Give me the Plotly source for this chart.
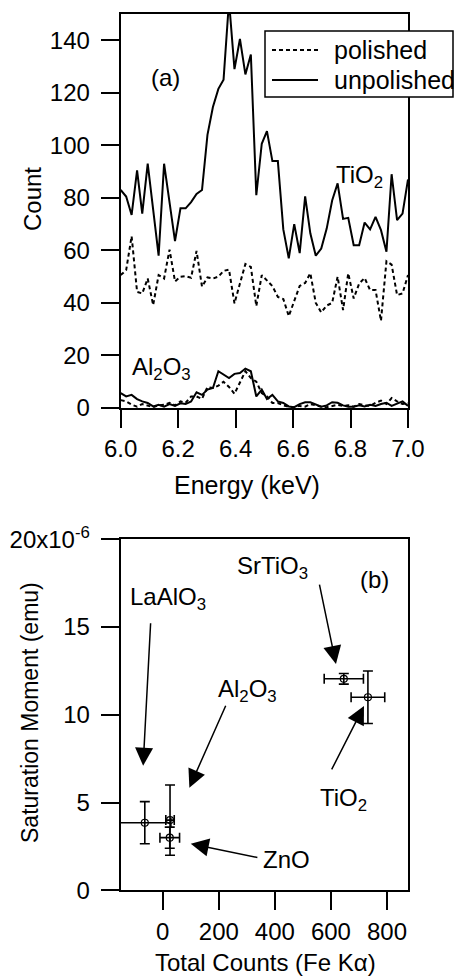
import plotly.graph_objects as go

# ---------------- data: panel (a) ----------------
energy = [6.000, 6.019, 6.038, 6.057, 6.075, 6.094, 6.113, 6.132, 6.151, 6.170,
          6.189, 6.208, 6.226, 6.245, 6.264, 6.283, 6.302, 6.321, 6.340, 6.358,
          6.377, 6.396, 6.415, 6.434, 6.453, 6.472, 6.491, 6.509, 6.528, 6.547,
          6.566, 6.585, 6.604, 6.623, 6.642, 6.660, 6.679, 6.698, 6.717, 6.736,
          6.755, 6.774, 6.792, 6.811, 6.830, 6.849, 6.868, 6.887, 6.906, 6.925,
          6.943, 6.962, 6.981, 7.000]

tio2_unpolished = [83, 80.5, 73.5, 90.5, 74, 93, 75.5, 58, 93, 78,
                   63.5, 76, 76, 78.4, 81.5, 83, 104, 114.6, 121.5, 125,
                   155, 129, 140.5, 127, 134.6, 81, 100.6, 105.4, 94, 94,
                   68, 57, 70, 59, 80.6, 66.5, 58, 60.7, 68.3, 79,
                   85.5, 72, 72.4, 62, 62, 70.6, 68, 72.8, 67.7, 59.5,
                   89, 71.5, 74, 87]

tio2_polished = [50.6, 52.5, 65.4, 44.2, 43.6, 49.3, 39.2, 50.6, 49.3, 60.3,
                 48.2, 50, 50.2, 49.6, 59.8, 46.2, 49.7, 49.3, 50, 52.2,
                 52.7, 39.8, 47.4, 54.8, 53.7, 38.8, 50.6, 48.4, 46.4, 42.3,
                 41.5, 35, 40.5, 46.5, 47.6, 51.3, 40, 36.4, 39, 40,
                 50, 37.3, 51.3, 41.7, 47.4, 49.5, 44.9, 44.9, 33.2, 55.9,
                 54.6, 43, 43.6, 50.6]

al2o3_unpolished = [5.7, 4.4, 5, 3.4, 2.5, 1.9, 0.6, 1.2, 0.5, 1.5,
                    0.8, 1.8, 1.5, 2.5, 6, 5, 7, 7.6, 14, 12.7,
                    11.4, 13, 13.3, 15, 14, 4.4, 7, 3.4, 5, 2.5,
                    1.9, 0.6, 0.3, 1.5, 2.2, 2.2, 1.5, 0.5, 1, 2.2,
                    2, 1, 0.5, 0.5, 1, 0.6, 1.2, 0.8, 1.5, 2,
                    0.8, 1.8, 2.5, 0.8]

al2o3_polished = [3, 2.5, 1.3, 0.5, 1.5, 0.8, 0.3, 1, 1.2, 2,
                  1, 2.5, 2, 4.4, 4.4, 3.5, 8, 7.6, 8.5, 10,
                  8, 5.4, 10, 14, 11.4, 10, 5.7, 4.4, 1.9, 1.9,
                  1, 0.5, 0.3, 0.8, 0.5, 1.5, 1, 0.5, 0.3, 0.8,
                  1.2, 0.8, 1, 0.5, 1.5, 1, 0.8, 2, 2.8, 1.5,
                  3.8, 2.5, 1.5, 1.8]

energy_ticks = [6.0, 6.2, 6.4, 6.6, 6.8, 7.0]
energy_ticktext = ["6.0", "6.2", "6.4", "6.6", "6.8", "7.0"]
count_ticks = [0, 20, 40, 60, 80, 100, 120, 140]
legend_labels = ["polished", "unpolished"]

# ---------------- data: panel (b) ----------------
samples = ["LaAlO<sub>3</sub>", "Al<sub>2</sub>O<sub>3</sub>", "ZnO", "SrTiO<sub>3</sub>", "TiO<sub>2</sub>"]
total_counts = [-64, 26, 25, 646, 732]
total_counts_err = [93, 15, 35, 70, 60]
sat_moment = [3.85e-6, 4.0e-6, 3.0e-6, 12.05e-6, 11.0e-6]
sat_moment_err = [1.2e-6, 2.0e-6, 0.6e-6, 0.3e-6, 1.5e-6]

counts_ticks = [0, 200, 400, 600, 800]
moment_ticks = [0, 5e-6, 10e-6, 15e-6, 20e-6]
moment_ticktext = ["0", "5", "10", "15", "20x10<sup>-6</sup>"]

# label positions (data coords) and arrow tails for panel (b)
label_pos = [(18, 16.6e-6), (304, 11.4e-6), (443, 1.75e-6), (393, 18.4e-6), (646, 5.15e-6)]
arrow_tip = [(-70, 7.1e-6), (95, 5.85e-6), (100, 2.65e-6), (618, 12.9e-6), (718, 10.5e-6)]
arrow_tail = [(-43, 15.3e-6), (227, 10.6e-6), (343, 1.85e-6), (558, 17.5e-6), (600, 6.8e-6)]

# ---------------- figure ----------------
W, H = 458, 980
FONT = "Liberation Sans, Arial, Helvetica, sans-serif"
FS = 24
BLACK = "black"

def fx(p):
    return p / W

def fy(p):
    return 1 - p / H

fig = go.Figure()

dash_style = "4px,3px"
fig.add_trace(go.Scatter(x=energy, y=tio2_polished, mode="lines", name=legend_labels[0],
                         line=dict(color=BLACK, width=2, dash=dash_style), showlegend=False,
                         xaxis="x", yaxis="y"))
fig.add_trace(go.Scatter(x=energy, y=tio2_unpolished, mode="lines", name=legend_labels[1],
                         line=dict(color=BLACK, width=2), showlegend=False,
                         xaxis="x", yaxis="y"))
fig.add_trace(go.Scatter(x=energy, y=al2o3_polished, mode="lines", showlegend=False,
                         line=dict(color=BLACK, width=2, dash=dash_style),
                         xaxis="x", yaxis="y"))
fig.add_trace(go.Scatter(x=energy, y=al2o3_unpolished, mode="lines", showlegend=False,
                         line=dict(color=BLACK, width=2),
                         xaxis="x", yaxis="y"))

fig.add_trace(go.Scatter(x=total_counts, y=sat_moment, mode="markers", showlegend=False,
                         marker=dict(symbol="circle-open", size=7, color=BLACK, line=dict(width=1.2)),
                         error_x=dict(type="data", array=total_counts_err, color=BLACK, thickness=1.6, width=5),
                         error_y=dict(type="data", array=sat_moment_err, color=BLACK, thickness=1.6, width=5),
                         xaxis="x2", yaxis="y2"))

axis_common = dict(showline=True, linecolor=BLACK, linewidth=2, mirror=True,
                   ticks="outside", ticklen=18, tickwidth=2, tickcolor=BLACK,
                   showgrid=False, zeroline=False, automargin=False,
                   tickfont=dict(family=FONT, size=FS, color=BLACK))

x_dom = [fx(120.7), fx(408)]
fig.update_layout(
    template="none",
    width=W, height=H,
    margin=dict(l=0, r=0, t=0, b=0, pad=0, autoexpand=False),
    paper_bgcolor="white", plot_bgcolor="white",
    font=dict(family=FONT, size=FS, color=BLACK),
    showlegend=False,
    xaxis=dict(domain=x_dom, range=[6.0, 7.0], tickvals=energy_ticks, ticktext=energy_ticktext,
               anchor="y", ticklabelstandoff=0, **axis_common),
    yaxis=dict(domain=[fy(408), fy(14)], range=[0, 150], tickvals=count_ticks,
               anchor="x", ticklabelstandoff=6, **axis_common),
    xaxis2=dict(domain=x_dom, range=[-150, 875], tickvals=counts_ticks,
                anchor="y2", ticklabelstandoff=1, **axis_common),
    yaxis2=dict(domain=[fy(890.3), fy(539.3)], range=[0, 20e-6], tickvals=moment_ticks,
                ticktext=moment_ticktext, anchor="x2", ticklabelstandoff=6, **axis_common),
)

# legend box (drawn as a framed key, in paper coordinates)
shapes = [
    dict(type="rect", xref="paper", yref="paper", x0=fx(265), x1=fx(453), y0=fy(97), y1=fy(31),
         line=dict(color=BLACK, width=1.5), fillcolor="white", layer="above"),
    dict(type="line", xref="paper", yref="paper", x0=fx(272), x1=fx(318), y0=fy(50), y1=fy(50),
         line=dict(color=BLACK, width=2, dash=dash_style), layer="above"),
    dict(type="line", xref="paper", yref="paper", x0=fx(272), x1=fx(318), y0=fy(80), y1=fy(80),
         line=dict(color=BLACK, width=2), layer="above"),
]
fig.update_layout(shapes=shapes)

annotations = []
annotations.append(dict(text=legend_labels[0], x=fx(332), y=fy(50), xref="paper", yref="paper",
                        showarrow=False, xanchor="left", yanchor="middle", font=dict(size=25)))
annotations.append(dict(text=legend_labels[1], x=fx(332), y=fy(80), xref="paper", yref="paper",
                        showarrow=False, xanchor="left", yanchor="middle", font=dict(size=25)))
# axis titles
annotations.append(dict(text="Count", x=fx(32), y=fy(199), xref="paper", yref="paper",
                        textangle=-90, showarrow=False, xanchor="center", yanchor="middle"))
annotations.append(dict(text="Energy (keV)", x=fx(247), y=fy(485), xref="paper", yref="paper",
                        showarrow=False, xanchor="center", yanchor="middle", font=dict(size=25)))
annotations.append(dict(text="Saturation Moment (emu)", x=fx(30), y=fy(713), xref="paper", yref="paper",
                        textangle=-90, showarrow=False, xanchor="center", yanchor="middle",
                        font=dict(size=23)))
annotations.append(dict(text="Total Counts (Fe K\u03b1)", x=fx(265), y=fy(962), xref="paper", yref="paper",
                        showarrow=False, xanchor="center", yanchor="middle"))
# panel (a) labels
annotations.append(dict(text="(a)", x=6.155, y=126, xref="x", yref="y", showarrow=False))
annotations.append(dict(text="TiO<sub>2</sub>", x=6.832, y=88, xref="x", yref="y", showarrow=False))
annotations.append(dict(text="Al<sub>2</sub>O<sub>3</sub>", x=6.142, y=15, xref="x", yref="y", showarrow=False))
# panel (b) labels
annotations.append(dict(text="(b)", x=754, y=17.7e-6, xref="x2", yref="y2", showarrow=False))
for name, (lx, ly), (tx, ty), (ax_, ay_) in zip(samples, label_pos, arrow_tip, arrow_tail):
    annotations.append(dict(text=name, x=lx, y=ly, xref="x2", yref="y2", showarrow=False))
    annotations.append(dict(text="", x=tx, y=ty, xref="x2", yref="y2",
                            ax=ax_, ay=ay_, axref="x2", ayref="y2",
                            showarrow=True, arrowhead=2, arrowsize=2.4, arrowwidth=1.5,
                            arrowcolor=BLACK, standoff=0, startstandoff=0))

fig.update_layout(annotations=annotations)

fig.write_html("out.html")
